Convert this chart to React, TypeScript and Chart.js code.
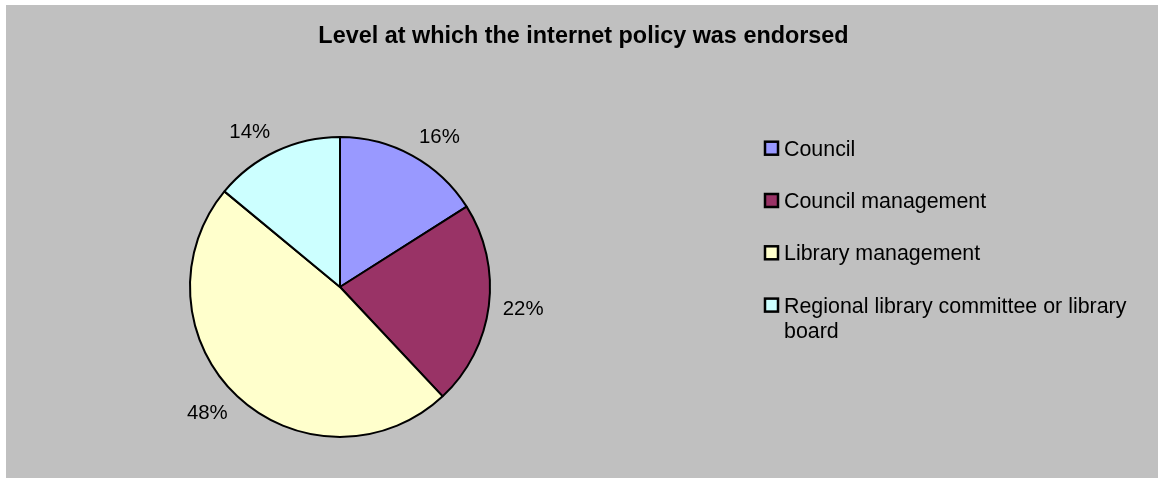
import React, { useEffect, useRef } from "react";
import { Chart, registerables } from "chart.js";

Chart.register(...registerables);

const chartTitle = "Level at which the internet policy was endorsed";
const categories = [
  "Council",
  "Council management",
  "Library management",
  "Regional library committee or library board",
];
const values = [16, 22, 48, 14];
const sliceColors = ["#9999FF", "#993366", "#FFFFCC", "#CCFFFF"];

const FONT = '"Liberation Sans", Arial, Helvetica, sans-serif';

function wrapText(ctx: CanvasRenderingContext2D, text: string, maxWidth: number): string[] {
  const words = text.split(" ");
  const lines: string[] = [];
  let cur = "";
  for (const w of words) {
    const test = cur ? cur + " " + w : w;
    if (ctx.measureText(test).width > maxWidth && cur) {
      lines.push(cur);
      cur = w;
    } else {
      cur = test;
    }
  }
  if (cur) lines.push(cur);
  return lines;
}

export default function App() {
  const ref = useRef<HTMLCanvasElement>(null);

  useEffect(() => {
    const canvas = ref.current;
    if (!canvas) return;

    const overlay = {
      id: "overlay",
      afterDraw(chart: any) {
        const ctx: CanvasRenderingContext2D = chart.ctx;
        ctx.save();
        // Title
        ctx.fillStyle = "#000";
        ctx.font = `bold 23.4px ${FONT}`;
        ctx.textAlign = "center";
        ctx.textBaseline = "alphabetic";
        ctx.fillText(chartTitle, 577.5, 38);

        // Percentage labels
        const ds = chart.data.datasets[0];
        const total = (ds.data as number[]).reduce((a, b) => a + b, 0);
        const meta = chart.getDatasetMeta(0);
        ctx.font = `20.4px ${FONT}`;
        ctx.textAlign = "center";
        ctx.textBaseline = "middle";
        meta.data.forEach((arc: any, i: number) => {
          const mid = (arc.startAngle + arc.endAngle) / 2;
          const txt = Math.round(((ds.data[i] as number) / total) * 100) + "%";
          const hw = ctx.measureText(txt).width / 2;
          const hh = 8;
          const c = Math.cos(mid);
          const s = Math.sin(mid);
          const R = arc.outerRadius + 14;
          const x = arc.x + R * c + hw * Math.sign(c);
          const y = arc.y + R * s + hh * s;
          ctx.fillText(txt, x, y + 1);
        });

        // Legend
        const lx = 758;
        const tx = 778;
        let baseline = 150.7;
        ctx.textAlign = "left";
        ctx.textBaseline = "alphabetic";
        ctx.font = `21.4px ${FONT}`;
        (chart.data.labels as string[]).forEach((label, i) => {
          const bg = (ds.backgroundColor as string[])[i];
          ctx.fillStyle = bg;
          ctx.fillRect(lx + 1, baseline - 14, 13, 13);
          ctx.strokeStyle = "#000";
          ctx.lineWidth = 2.5;
          ctx.strokeRect(lx + 1, baseline - 14, 13, 13);
          ctx.fillStyle = "#000";
          const lines = wrapText(ctx, label, 362);
          lines.forEach((ln, j) => {
            ctx.fillText(ln, tx, baseline + j * 25.5);
          });
          baseline += 52.3;
        });
        ctx.restore();
      },
    };

    const chart = new Chart(canvas, {
      type: "pie",
      data: {
        labels: categories,
        datasets: [
          {
            data: values,
            backgroundColor: sliceColors,
            borderColor: "#000000",
            borderWidth: 2,
            hoverBorderWidth: 2,
          },
        ],
      },
      options: {
        responsive: false,
        animation: false,
        events: [],
        layout: { padding: { left: 183, top: 131, right: 667, bottom: 40 } },
        plugins: {
          legend: { display: false },
          tooltip: { enabled: false },
          title: { display: false },
        },
      },
      plugins: [overlay],
    });
    return () => chart.destroy();
  }, []);

  return (
    <div
      style={{
        position: "absolute",
        left: 6,
        top: 5,
        width: 1152,
        height: 473,
        background: "#C0C0C0",
      }}
    >
      <canvas ref={ref} width={1152} height={473} style={{ display: "block" }} />
    </div>
  );
}
